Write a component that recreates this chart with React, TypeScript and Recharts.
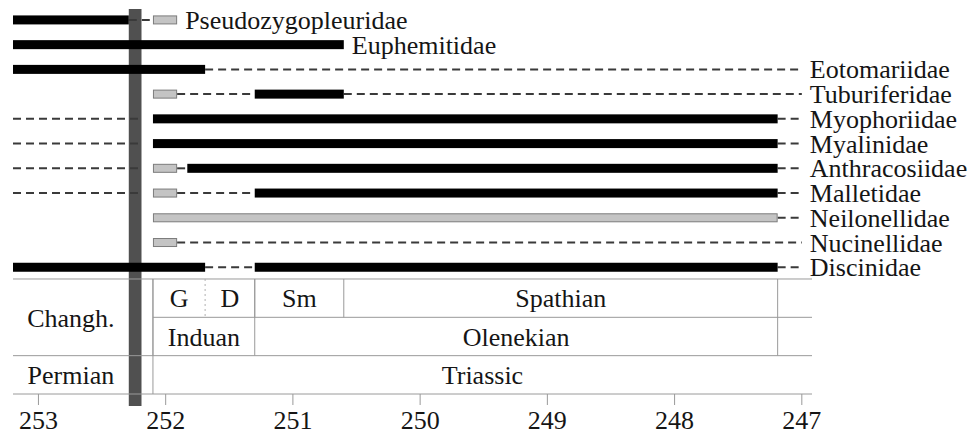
import {
  Bar,
  ComposedChart,
  ReferenceArea,
  ReferenceDot,
  ReferenceLine,
  XAxis,
  YAxis,
} from "recharts";

// ages in Ma, older value first
const TAXA = [
  "Pseudozygopleuridae",
  "Euphemitidae",
  "Eotomariidae",
  "Tuburiferidae",
  "Myophoriidae",
  "Myalinidae",
  "Anthracosiidae",
  "Malletidae",
  "Neilonellidae",
  "Nucinellidae",
  "Discinidae",
];

const CHART_START = 253.2;
const CHART_END = 246.92;
const AGE_TICKS = [253, 252, 251, 250, 249, 248, 247];

const SOLID_RANGES: [string, number, number][] = [
  ["Pseudozygopleuridae", 253.2, 252.29],
  ["Euphemitidae", 253.2, 250.6],
  ["Eotomariidae", 253.2, 251.69],
  ["Tuburiferidae", 251.3, 250.6],
  ["Myophoriidae", 252.1, 247.19],
  ["Myalinidae", 252.1, 247.19],
  ["Anthracosiidae", 251.83, 247.19],
  ["Malletidae", 251.3, 247.19],
  ["Discinidae", 253.2, 251.69],
  ["Discinidae", 251.3, 247.19],
];

const GRAY_RANGES: [string, number, number][] = [
  ["Pseudozygopleuridae", 252.1, 251.91],
  ["Tuburiferidae", 252.1, 251.91],
  ["Anthracosiidae", 252.1, 251.91],
  ["Malletidae", 252.1, 251.91],
  ["Neilonellidae", 252.1, 247.19],
  ["Nucinellidae", 252.1, 251.91],
];

const DASHED_RANGES: [string, number, number][] = [
  ["Pseudozygopleuridae", 252.29, 252.1],
  ["Eotomariidae", 251.69, 247.0],
  ["Tuburiferidae", 251.91, 251.3],
  ["Tuburiferidae", 250.6, 247.0],
  ["Myophoriidae", 253.2, 252.18],
  ["Myophoriidae", 247.19, 247.0],
  ["Myalinidae", 253.2, 252.18],
  ["Myalinidae", 247.19, 247.0],
  ["Anthracosiidae", 253.2, 252.18],
  ["Anthracosiidae", 251.91, 251.83],
  ["Anthracosiidae", 247.19, 247.0],
  ["Malletidae", 253.2, 252.18],
  ["Malletidae", 251.91, 251.3],
  ["Malletidae", 247.19, 247.0],
  ["Neilonellidae", 247.19, 247.0],
  ["Nucinellidae", 251.91, 247.0],
  ["Discinidae", 251.69, 251.3],
  ["Discinidae", 247.19, 247.0],
];

const EXTINCTION: [number, number] = [252.29, 252.19];

const SUBSTAGES: [string, number, number][] = [
  ["G", 252.1, 251.69],
  ["D", 251.69, 251.3],
  ["Sm", 251.3, 250.6],
  ["Spathian", 250.6, 247.19],
];
const STAGES: [string, number, number][] = [
  ["Changh.", 253.2, 252.1],
  ["Induan", 252.1, 251.3],
  ["Olenekian", 251.3, 247.19],
];
const SYSTEMS: [string, number, number][] = [
  ["Permian", 253.2, 252.1],
  ["Triassic", 252.1, 246.92],
];

// layout, in row units of the hidden y axis
const ROW_TOP = -0.8;
const TABLE_TOP = 10.48;
const TIER = 1.55;
const ROW_BOTTOM = TABLE_TOP + 3 * TIER;
const EXT_TOP = -0.44;
const EXT_BOTTOM = 15.62;

const FONT = "'Liberation Serif', 'Times New Roman', serif";
const TEXT = "#151515";
const GRID = "#9a9a9a";

const segments = [
  ...DASHED_RANGES.map(([t, a, b]) => ({ row: TAXA.indexOf(t), range: [a, b], kind: "dashed" })),
  ...GRAY_RANGES.map(([t, a, b]) => ({ row: TAXA.indexOf(t), range: [a, b], kind: "gray" })),
  ...SOLID_RANGES.map(([t, a, b]) => ({ row: TAXA.indexOf(t), range: [a, b], kind: "solid" })),
];

const SegmentShape = (props: any) => {
  const { x, y, width, height } = props;
  const kind = props.payload?.kind ?? props.kind;
  if (kind === "dashed") {
    const cy = y + height / 2;
    return (
      <line x1={x} x2={x + width} y1={cy} y2={cy} stroke="#3a3a3a" strokeWidth={2} strokeDasharray="8 5" />
    );
  }
  if (kind === "gray") {
    return (
      <rect x={x + 0.5} y={y + 0.5} width={width - 1} height={height - 1} fill="#c4c4c4" stroke="#7c7c7c" />
    );
  }
  return <rect x={x} y={y} width={width} height={height} fill="#000" />;
};

const cellLabel = (value: string) => ({
  value,
  position: "center" as const,
  fontSize: 26,
  fill: TEXT,
  fontFamily: FONT,
});

// keep the label clear of the extinction band
const labelSpan = (from: number, to: number): [number, number] =>
  EXTINCTION[0] < from && EXTINCTION[1] > to ? [from, EXTINCTION[0]] : [from, to];

export default function App() {
  return (
    <>
      <style>{"body{margin:0}"}</style>
      <ComposedChart
        width={975}
        height={436}
        layout="vertical"
        data={segments}
        margin={{ top: 0, right: 163, bottom: 0, left: 13 }}
      >
        <XAxis
          type="number"
          domain={[CHART_END, CHART_START]}
          reversed
          allowDataOverflow
          ticks={AGE_TICKS}
          height={42}
          tickSize={11}
          tickMargin={6}
          axisLine={{ stroke: GRID }}
          tickLine={{ stroke: GRID }}
          tick={{ fontSize: 26, fill: TEXT, fontFamily: FONT }}
        />
        <YAxis type="number" dataKey="row" hide allowDataOverflow domain={[ROW_TOP, ROW_BOTTOM]} />

        <ReferenceArea
          x1={EXTINCTION[0]}
          x2={EXTINCTION[1]}
          y1={EXT_TOP}
          y2={EXT_BOTTOM}
          fill="#505050"
          fillOpacity={1}
          stroke="none"
          ifOverflow="visible"
        />

        {/* time scale table */}
        <ReferenceLine segment={[{ x: CHART_START, y: TABLE_TOP }, { x: CHART_END, y: TABLE_TOP }]} stroke={GRID} />
        <ReferenceLine
          segment={[{ x: SUBSTAGES[0][1], y: TABLE_TOP + TIER }, { x: CHART_END, y: TABLE_TOP + TIER }]}
          stroke={GRID}
        />
        <ReferenceLine
          segment={[{ x: CHART_START, y: TABLE_TOP + 2 * TIER }, { x: CHART_END, y: TABLE_TOP + 2 * TIER }]}
          stroke={GRID}
        />
        {SUBSTAGES.slice(1).map(([name, from]) => (
          <ReferenceLine
            key={"sb" + name}
            segment={[{ x: from, y: TABLE_TOP }, { x: from, y: TABLE_TOP + TIER }]}
            stroke={name === "D" ? "#b0b0b0" : GRID}
            strokeDasharray={name === "D" ? "2 3" : undefined}
          />
        ))}
        {[...STAGES.slice(1).map((s) => s[1]), STAGES[STAGES.length - 1][2]].map((age) => (
          <ReferenceLine
            key={"st" + age}
            segment={[{ x: age, y: TABLE_TOP }, { x: age, y: TABLE_TOP + 2 * TIER }]}
            stroke={GRID}
          />
        ))}
        {SYSTEMS.slice(1).map(([name, from]) => (
          <ReferenceLine
            key={"sy" + name}
            segment={[{ x: from, y: TABLE_TOP }, { x: from, y: ROW_BOTTOM }]}
            stroke={GRID}
          />
        ))}

        {SUBSTAGES.map(([name, from, to]) => (
          <ReferenceArea
            key={name}
            x1={from}
            x2={to}
            y1={TABLE_TOP}
            y2={TABLE_TOP + TIER}
            fill="none"
            stroke="none"
            label={cellLabel(name)}
          />
        ))}
        {STAGES.map(([name, from, to]) => {
          const [a, b] = labelSpan(from, to);
          const twoTier = from > SUBSTAGES[0][1];
          return (
            <ReferenceArea
              key={name}
              x1={a}
              x2={b}
              y1={twoTier ? TABLE_TOP : TABLE_TOP + TIER}
              y2={TABLE_TOP + 2 * TIER}
              fill="none"
              stroke="none"
              label={cellLabel(name)}
            />
          );
        })}
        {SYSTEMS.map(([name, from, to]) => {
          const [a, b] = labelSpan(from, to);
          return (
            <ReferenceArea
              key={name}
              x1={a}
              x2={b}
              y1={TABLE_TOP + 2 * TIER}
              y2={ROW_BOTTOM}
              fill="none"
              stroke="none"
              label={cellLabel(name)}
            />
          );
        })}

        <Bar dataKey="range" barSize={9} shape={SegmentShape} isAnimationActive={false} />

        {TAXA.map((t, i) => {
          const end = Math.min(...segments.filter((s) => s.row === i).map((s) => s.range[1]));
          return (
            <ReferenceDot
              key={t}
              x={end}
              y={i}
              r={0}
              fill="none"
              stroke="none"
              label={{ value: t, position: "right", offset: 8, fontSize: 26, fill: TEXT, fontFamily: FONT }}
            />
          );
        })}
      </ComposedChart>
    </>
  );
}
